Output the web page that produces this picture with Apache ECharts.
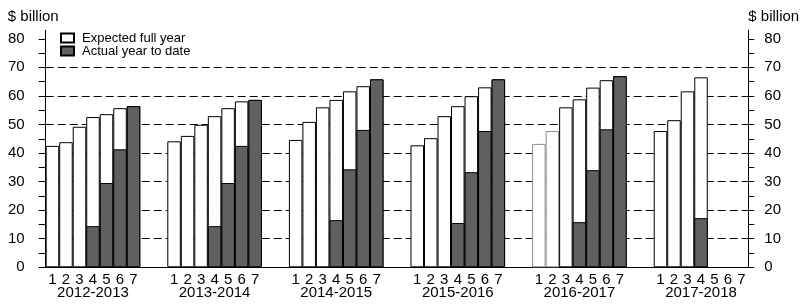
<!DOCTYPE html>
<html>
<head>
<meta charset="utf-8">
<script src="https://cdn.jsdelivr.net/npm/echarts@6/dist/echarts.min.js"></script>
<style>html,body{margin:0;padding:0;background:#fff}#c{width:804px;height:306px}</style>
</head>
<body>
<div id="c"></div>
<script>
const years = ['2012-2013','2013-2014','2014-2015','2015-2016','2016-2017','2017-2018'];
const months = ['1','2','3','4','5','6','7'];
const expected = [
  [42.5, 43.8, 49.2, 52.6, 53.6, 55.7, 56.4],
  [44.1, 46.0, 49.9, 52.9, 55.7, 58.1, 58.6],
  [44.6, 50.9, 56.0, 58.6, 61.6, 63.4, 65.8],
  [42.7, 45.2, 52.9, 56.4, 59.9, 63.0, 65.8],
  [43.2, 47.7, 56.0, 58.8, 62.9, 65.5, 66.9],
  [47.7, 51.5, 61.6, 66.5, null, null, null]
];
const actual = [
  [null, null, null, 14.4, 29.5, 41.3, 56.4],
  [null, null, null, 14.4, 29.5, 42.5, 58.6],
  [null, null, null, 16.5, 34.3, 48.1, 65.8],
  [null, null, null, 15.5, 33.3, 47.7, 65.8],
  [null, null, null, 15.8, 34.0, 48.3, 66.9],
  [null, null, null, 17.2, null, null, null]
];
const yLabels = [0, 10, 20, 30, 40, 50, 60, 70, 80];
const yTicks = [0, 5, 10, 15, 20, 25, 30, 35, 40, 45, 50, 55, 60, 65, 70, 75, 80];
const gridValues = [10, 20, 30, 40, 50, 60, 70];

// build slots: 7 bars per year, 2 empty slots between years
const cats = [], labels = [], expData = [], actData = [];
years.forEach((y, g) => {
  months.forEach((m, i) => {
    cats.push(y + '-' + m);
    labels.push(i === 3 ? m + '\n' + y : m);
    const ev = expected[g][i];
    const item = { value: ev };
    if (g === 4 && i < 2) item.itemStyle = { borderColor: '#8c8c8c' };
    expData.push(item);
    actData.push(actual[g][i]);
  });
  if (g < years.length - 1) {
    for (let k = 0; k < 2; k++) {
      cats.push(y + '-gap' + k);
      labels.push('');
      expData.push(null);
      actData.push(null);
    }
  }
});

const FONT = 'Liberation Sans';
const chart = echarts.init(document.getElementById('c'), null, { renderer: 'canvas' });
const yCommon = {
  type: 'value', min: 0, max: 83,
  axisLine: { show: true, lineStyle: { color: '#000', width: 1 } },
  splitLine: { show: false },
  nameLocation: 'end',
  nameGap: 13
};
chart.setOption({
  animation: false,
  backgroundColor: '#fff',
  textStyle: { fontFamily: FONT },
  grid: { left: 45.7, right: 55.7, top: 30.2, bottom: 38.7, containLabel: false },
  legend: {
    orient: 'vertical', left: 60, top: 31.5, itemGap: 0, padding: 0,
    itemWidth: 13, itemHeight: 9, icon: 'rect',
    textStyle: { fontFamily: FONT, fontSize: 13, color: '#000', lineHeight: 12.5, padding: [0, 0, 0, 3] },
    data: ['Expected full year', 'Actual year to date']
  },
  xAxis: {
    type: 'category', data: cats,
    axisLine: { lineStyle: { color: '#000', width: 1 } },
    axisTick: { show: false },
    axisLabel: {
      interval: 0, margin: 6, color: '#000', fontFamily: FONT, fontSize: 15, lineHeight: 13,
      formatter: (v, i) => labels[i]
    }
  },
  yAxis: [
    Object.assign({}, yCommon, {
      position: 'left', name: '$ billion',
      nameTextStyle: { fontFamily: FONT, fontSize: 15, color: '#000', align: 'right', verticalAlign: 'middle', padding: [0, -13, 0, 0] },
      axisTick: { show: true, inside: false, length: 7, lineStyle: { color: '#000' }, customValues: yTicks },
      axisLabel: { margin: 21, color: '#000', fontFamily: FONT, fontSize: 15, customValues: yLabels }
    }),
    Object.assign({}, yCommon, {
      position: 'right', name: '$ billion',
      nameTextStyle: { fontFamily: FONT, fontSize: 15, color: '#000', align: 'left', verticalAlign: 'middle' },
      axisTick: { show: true, inside: false, length: 6, lineStyle: { color: '#000' }, customValues: yTicks },
      axisLabel: { margin: 16, color: '#000', fontFamily: FONT, fontSize: 15, customValues: yLabels }
    })
  ],
  series: [
    {
      name: 'Expected full year', type: 'bar', data: expData,
      barWidth: '100%', barGap: '-100%', z: 2,
      itemStyle: { color: '#fff', borderColor: '#000', borderWidth: 1 },
      markLine: {
        silent: true, symbol: 'none', z: 1,
        label: { show: false },
        lineStyle: { color: '#000', type: [8, 4], width: 1 },
        data: gridValues.map(v => ({ yAxis: v }))
      }
    },
    {
      name: 'Actual year to date', type: 'bar', data: actData,
      barWidth: '100%', barGap: '-100%', z: 3,
      itemStyle: { color: '#606060', borderColor: '#000', borderWidth: 1 }
    }
  ]
});
</script>
</body>
</html>
